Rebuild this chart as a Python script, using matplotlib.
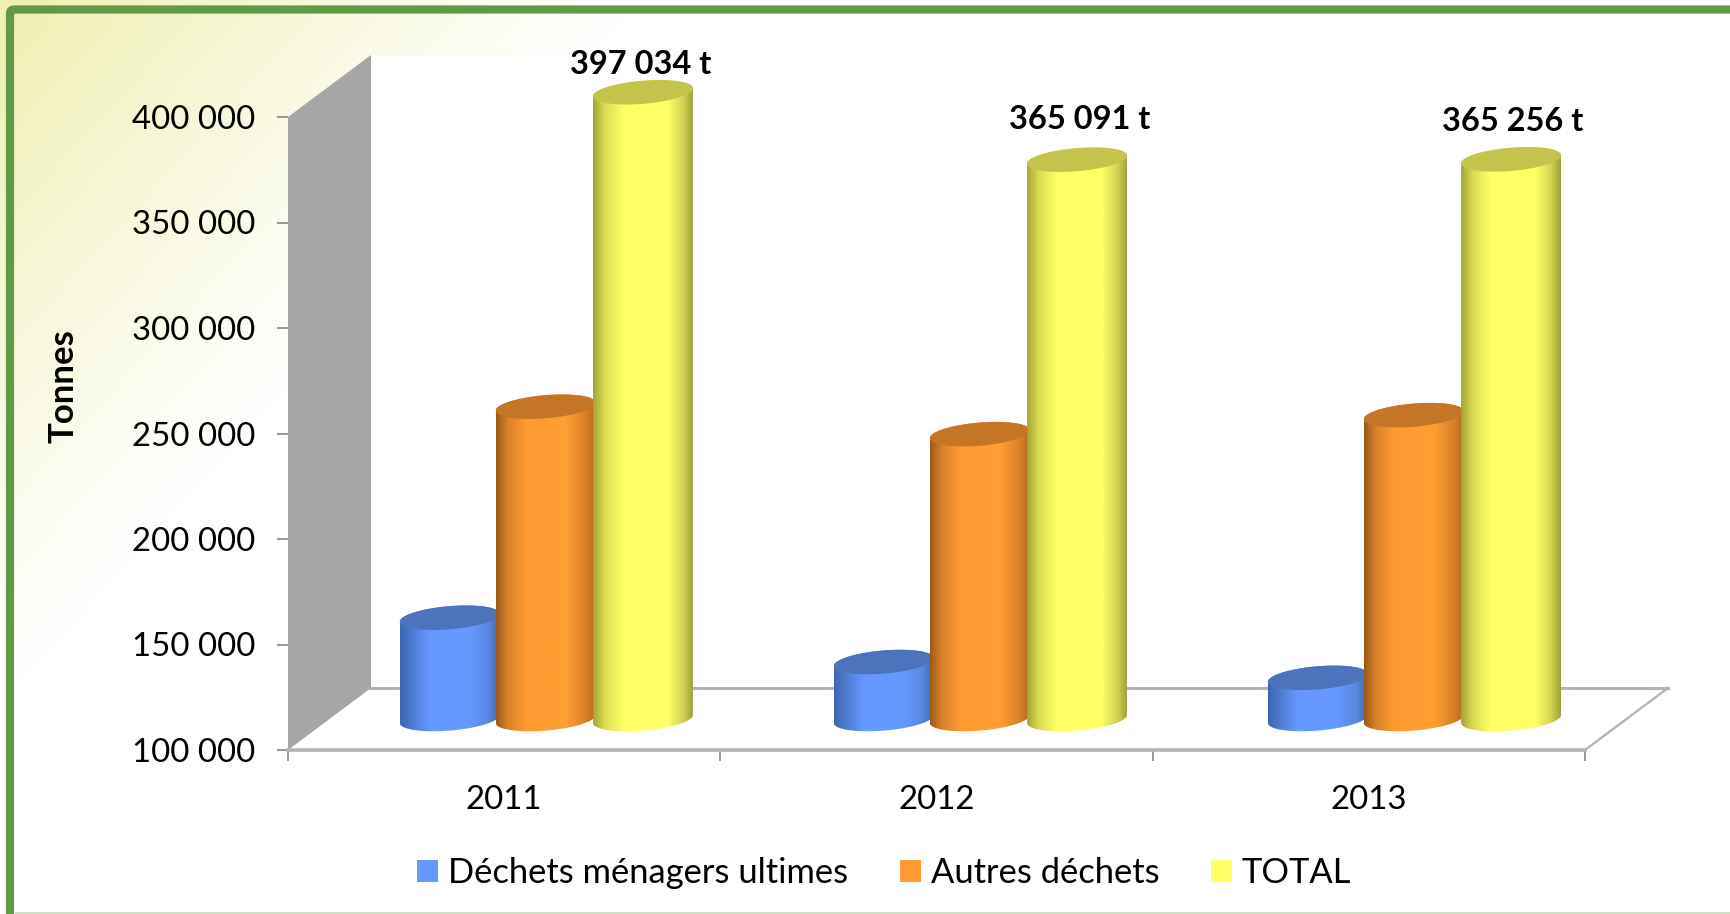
import matplotlib
matplotlib.use("Agg")
import matplotlib.pyplot as plt
import numpy as np
from matplotlib.colors import LinearSegmentedColormap, to_rgb
from matplotlib.patches import Patch, PathPatch, Polygon, FancyBboxPatch, Rectangle
from matplotlib.path import Path

# ---- data ----
years = ["2011", "2012", "2013"]
dechets_menagers = [148000, 127000, 119500]
autres_dechets = [248000, 235000, 244000]
total = [397034, 365091, 365256]
series_names = ["Déchets ménagers ultimes", "Autres déchets", "TOTAL"]
y_ticks = [100000, 150000, 200000, 250000, 300000, 350000, 400000]

# ---- layout (pixels of a 1730x914 canvas) ----
W, H = 1730, 914
PX_LEFT, PX_BASE = 288, 750
PX_PER_CAT, PX_PER_T = 432.33, 0.00211
DEPTH_X, DEPTH_Y = 83 / PX_PER_CAT, 62 / PX_PER_T
BASE_T = 100000 + 31 / PX_PER_T          # where cylinders stand on the floor
ELL_B, ELL_TILT = 11.6 / PX_PER_T, 4 / PX_PER_T
BAR_W = 0.231
GROUP_STEP = 1.004
OFFSETS = [0.374, 0.596, 0.821]
LABEL_RAISE_PX = [28, 40, 38]
LABEL_SHIFT_PX = [-2, 3, 2]
GREY, TICK = "#B4B4B4", "#868686"

plt.rcParams["font.family"] = ["Lato", "DejaVu Sans"]
fig = plt.figure(figsize=(W / 100, H / 100), dpi=100, facecolor="white")

# background gradient + frame, in pixel coordinates
bg = fig.add_axes([0, 0, 1, 1], zorder=0)
bg.set_xlim(0, W); bg.set_ylim(H, 0); bg.axis("off")
yy, xx = np.mgrid[0:H:4, 0:W:4]
d = np.clip(xx / 640 + yy / 700, 0, 1)
t = np.clip(1 - d, 0, 1) ** 1.15
c0, c1 = np.array(to_rgb("#FFFFFF")), np.array(to_rgb("#EFEFB0"))
bg.imshow(c0 + (c1 - c0) * t[..., None], extent=(0, W, H, 0), aspect="auto", interpolation="bilinear")
bg.set_xlim(0, W); bg.set_ylim(H, 0)
GREEN = "#619A46"
bg.add_patch(FancyBboxPatch((10, 9.5), W + 40, H + 40, boxstyle="round,pad=0,rounding_size=4",
                            fc="none", ec=GREEN, lw=5.9))
bg.add_patch(Rectangle((15, 912), W, 2, fc="#CFE0C0", ec="none"))

# main chart axes
top_t = 440000
ax = fig.add_axes([PX_LEFT / W, 1 - PX_BASE / H, 3.25 * PX_PER_CAT / W,
                   (top_t - 100000) * PX_PER_T / H], zorder=1)
ax.patch.set_alpha(0)
ax.set_xlim(0, 3.25); ax.set_ylim(100000, top_t)
for s in ax.spines.values():
    s.set_visible(False)

# back wall, side wall and floor edges
ymax = y_ticks[-1]; ymin = y_ticks[0]; n = len(years)
ax.add_patch(Rectangle((DEPTH_X, ymin + DEPTH_Y), n, ymax - ymin, fc="white", ec="none", zorder=1))
ax.plot([DEPTH_X, n + DEPTH_X], [ymax + DEPTH_Y] * 2, color="#FAFAFA", lw=1, zorder=1)
ax.add_patch(Polygon([(0, ymin), (n, ymin), (n + DEPTH_X, ymin + DEPTH_Y), (DEPTH_X, ymin + DEPTH_Y)],
                     fc="white", ec="none", zorder=1))
ax.add_patch(Polygon([(0, ymin), (0, ymax), (DEPTH_X, ymax + DEPTH_Y), (DEPTH_X, ymin + DEPTH_Y)],
                     fc="#A6A6A6", ec="none", zorder=2))
ax.plot([DEPTH_X, n + DEPTH_X], [ymin + DEPTH_Y] * 2, color=GREY, lw=2.2, zorder=2)
ax.plot([0, n], [ymin, ymin], color=GREY, lw=2.6, zorder=2, clip_on=False)
ax.plot([n, n + DEPTH_X], [ymin, ymin + DEPTH_Y], color=GREY, lw=1.6, zorder=2)

STYLES = [
    dict(top="#4C73BC", stops=[(0, "#3E65B0"), (.1, "#4A78CC"), (.3, "#6699FF"), (.7, "#6699FF"), (.88, "#5A88E0"), (1, "#4068B0")]),
    dict(top="#C47526", stops=[(0, "#9A5A18"), (.12, "#D9822B"), (.3, "#FF9933"), (.7, "#FF9F33"), (.9, "#D98028"), (1, "#B06A20")]),
    dict(top="#C4C44C", stops=[(0, "#A4A434"), (.12, "#DCDC54"), (.3, "#FFFF66"), (.75, "#FFFF66"), (.9, "#D4D454"), (1, "#A0A03A")]),
]


def ellipse_pts(cx, yc, ts):
    return np.c_[cx + BAR_W / 2 * np.cos(ts), yc + ELL_B * np.sin(ts) + ELL_TILT * np.cos(ts)]


def cylinder(cx, value, style, z):
    top = value - 100000 + BASE_T
    bottom = ellipse_pts(cx, BASE_T, np.linspace(np.pi, 2 * np.pi, 60))
    upper = ellipse_pts(cx, top, np.linspace(0, np.pi, 60))
    body = np.vstack([bottom, upper, bottom[:1]])
    patch = PathPatch(Path(body), fc="none", ec="none", transform=ax.transData, zorder=z)
    ax.add_patch(patch)
    cmap = LinearSegmentedColormap.from_list("c", style["stops"])
    grad = np.linspace(0, 1, 256)[None, :]
    im = ax.imshow(grad, cmap=cmap, vmin=0, vmax=1, aspect="auto", interpolation="bilinear", zorder=z,
                   extent=(cx - BAR_W / 2, cx + BAR_W / 2, BASE_T - 2 * ELL_B, top + 2 * ELL_B))
    im.set_clip_path(patch)
    cap = ellipse_pts(cx, top, np.linspace(0, 2 * np.pi, 120))
    ax.add_patch(Polygon(cap, closed=True, fc=style["top"], ec="none", zorder=z + 0.1))


series = [dechets_menagers, autres_dechets, total]
for i in range(n):
    for k, vals in enumerate(series):
        cylinder(i * GROUP_STEP + OFFSETS[k], vals[i], STYLES[k], 3 + k)
    txt = f"{total[i]:,} t".replace(",", " ")
    ax.annotate(txt, xy=(i * GROUP_STEP + OFFSETS[2], total[i] - 100000 + BASE_T), xycoords="data",
                xytext=(LABEL_SHIFT_PX[i] * .72, LABEL_RAISE_PX[i] * .72), textcoords="offset points",
                ha="center", va="center", fontsize=23.5, fontweight="bold", color="black", zorder=10)
ax.set_xlim(0, 3.25); ax.set_ylim(100000, top_t)

ax.set_yticks(y_ticks)
ax.set_yticklabels([f"{v:,}".replace(",", " ") for v in y_ticks])
ax.tick_params(axis="y", length=8, width=1.2, color=TICK, pad=15.5, labelsize=23.8)
ax.set_xticks(range(n + 1))
ax.set_xticklabels([""] * (n + 1))
ax.tick_params(axis="x", which="major", length=8, width=1.2, color=TICK)
ax.set_xticks([i + .5 for i in range(n)], minor=True)
ax.set_xticklabels(years, minor=True)
ax.tick_params(axis="x", which="minor", length=0, pad=25, labelsize=23.8)

fig.text(64 / W, 1 - 386 / H, "Tonnes", rotation=90, ha="center", va="center", fontsize=25, fontweight="bold")

handles = [Patch(fc=STYLES[0]["stops"][2][1]), Patch(fc=STYLES[1]["stops"][2][1]), Patch(fc=STYLES[2]["stops"][2][1])]
fig.legend(handles, series_names, ncol=3, loc="center", bbox_to_anchor=(884 / W, 1 - 873 / H), frameon=False,
           fontsize=24.8, handlelength=.61, handleheight=.61, handletextpad=.29, columnspacing=1.5, borderpad=0)

fig.savefig("out.png", dpi=100, facecolor="white")
